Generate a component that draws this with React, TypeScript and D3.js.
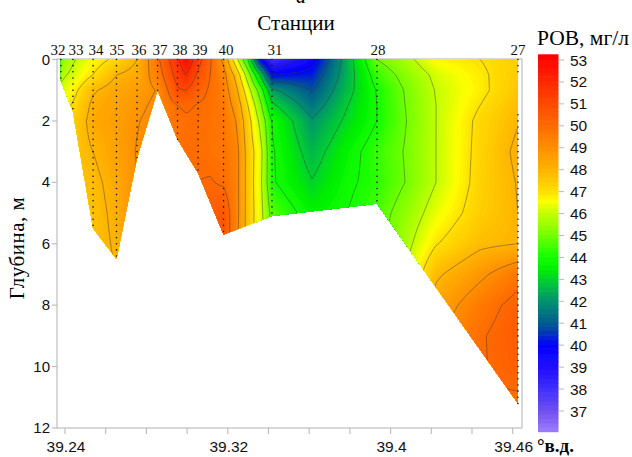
import React, { useMemo } from "react";
import * as d3 from "d3";

const depths = [0, 0.5, 1, 1.5, 2, 3, 4, 5, 6, 7, 8, 9, 10, 11, 12];
const gridLons = [39.238, 39.2439, 39.2538, 39.2653, 39.2754, 39.2855, 39.2953, 39.2995, 39.3054, 39.3113, 39.3179, 39.324, 39.3299, 39.3358, 39.3417, 39.3614, 39.3776, 39.3933, 39.4071, 39.4223, 39.4439, 39.4626];
const c32 = [45.3, 45.8, 46.2, 46.6, 47, 47.5];
const c33 = [45.9, 46.2, 46.7, 47.1, 47.4, 47.6, 47.6];
const c34 = [46.6, 47.0, 47.9, 48.2, 48.3, 48.0, 47.8, 47.7, 47.7];
const c35 = [47.2, 48, 48.4, 48.5, 48.6, 48.5, 48.3, 48.2, 48.1, 48];
const c36 = [48, 48.3, 48.6, 48.8, 48.95, 49.05, 49, 49];
const c37 = [49.8, 49.5, 49.05, 49.2, 49.3, 49.4];
const c38 = [51.8, 51.4, 50.9, 50.0, 49.8, 49.7, 49.7];
const g1 = [52.9, 52, 51, 50.1, 49.9, 50, 50, 50];
const c39 = [51.4, 50.8, 50.3, 49.95, 49.9, 49.9, 50, 50.2];
const g2 = [50.1, 50, 49.9, 49.85, 49.8, 49.8, 50.05, 50.4, 50.5];
const c40 = [48.8, 49.3, 49.5, 49.6, 49.7, 49.7, 49.9, 50.6, 50.7];
const g3 = [46.4, 47.7, 48.25, 48.7, 49, 49.4, 49.4, 49.4, 49.3];
const g4 = [44, 45.5, 46.4, 47, 47.4, 47.6, 47.6, 47.6, 47.6];
const g5 = [40, 43, 44.6, 45.3, 45.8, 46.4, 46.3, 46.4, 46.4];
const c31 = [38, 40, 42.2, 43.2, 43.95, 44.1, 44.1, 44.7, 45];
const g6 = [39.6, 40.3, 40.9, 41.5, 42.1, 42.6, 43.05, 43.6, 43.8];
const g7 = [42.3, 42.4, 42.6, 42.9, 43.1, 43.6, 43.8, 43.95, 44];
const c28 = [45, 44.4, 44.05, 44, 44, 44.4, 44.3, 44.6, 44.7];
const g8 = [45.7, 45.3, 45.05, 45, 44.95, 45.05, 45, 45.4, 45.7, 46];
const g9 = [46.7, 46.2, 46.05, 46, 46, 46, 46, 46.4, 46.95, 47.85, 48.4, 49];
const g10 = [47, 46.85, 46.8, 47, 47.2, 47.25, 47.3, 47.4, 47.8, 48.8, 49.6, 49.9, 49.9, 49.9];
const c27 = [47.4, 47.5, 47.6, 47.8, 47.95, 48.2, 48.05, 48, 48, 49.7, 50.3, 50.5, 50.4, 49.9, 49.8];
const columns = [c32, c33, c34, c35, c36, c37, c38, g1, c39, g2, c40, g3, g4, g5, c31, g6, g7, c28, g8, g9, g10, c27];

const stationNames = ["32", "33", "34", "35", "36", "37", "38", "39", "40", "31", "28", "27"];
const stationLons = [39.238, 39.2439, 39.2538, 39.2653, 39.2754, 39.2855, 39.2953, 39.3054, 39.3179, 39.3417, 39.3933, 39.4626];
const stationMaxDepths = [0.7, 1.7, 5.5, 6.5, 3.2, 1.0, 2.6, 3.7, 5.7, 5.1, 4.7, 11.2];

const lonTicks = [39.24, 39.26, 39.28, 39.3, 39.32, 39.34, 39.36, 39.38, 39.4, 39.42, 39.44, 39.46];
const lonLabels = ["39.24", "39.32", "39.4", "39.46"];
const depthTicks = [0, 2, 4, 6, 8, 10, 12];
const colorTicks = [53, 52, 51, 50, 49, 48, 47, 46, 45, 44, 43, 42, 41, 40, 39, 38, 37];
const contourLevels = [38, 39, 40, 41, 42, 43, 44, 45, 46, 47, 48, 49, 50, 51, 52];

const colorDomain = [36, 37, 38, 39, 40, 40.5, 41, 42, 43, 43.5, 44, 45, 46, 46.6, 47, 48, 49, 50, 51, 52, 53.2];
const colorRange = ["#a080ff", "#7050f0", "#4030ff", "#2010ff", "#0000ff", "#0030c0", "#005a90", "#009070", "#00d030", "#00f000", "#10ff00", "#70ff00", "#c0ff00", "#ffff00", "#ffe000", "#ffb400", "#ff9000", "#ff6a00", "#ff4a00", "#ff2a00", "#ff0000"];

const color = d3.scaleLinear<string>().domain(colorDomain).range(colorRange).clamp(true);
const x = d3.scaleLinear().domain([39.24, 39.46]).range([65, 512.7]);
const y = d3.scaleLinear().domain([0, 12]).range([59.5, 428]);
const cbY = d3.scaleLinear().domain([53, 37]).range([60, 411]);

const serif = "'Liberation Serif', serif";
const sans = "'Liberation Sans', sans-serif";
const FRAME = "#b9b9b9";
const labelNudge = [-3, 3, 3, 0.5, 2, 2.5, 2.5, 2, 2.5, 3, 1, 0];

function sample(lon: number, depth: number, ci: any, ri: any): number {
  const cf = ci(lon), rf = ri(depth);
  const c0 = Math.min(Math.floor(cf), columns.length - 2), r0 = Math.min(Math.floor(rf), depths.length - 2);
  const tc = cf - c0, tr = rf - r0;
  const at = (c: number, r: number) => { const a = columns[c]; return a[Math.min(r, a.length - 1)]; };
  return (1 - tc) * ((1 - tr) * at(c0, r0) + tr * at(c0, r0 + 1)) + tc * ((1 - tr) * at(c0 + 1, r0) + tr * at(c0 + 1, r0 + 1));
}

export default function App() {
  const { bands, lines } = useMemo(() => {
    const step = 1.5;
    const x0 = 54, y0 = 52;
    const nx = Math.ceil((528 - x0) / step), ny = Math.ceil((436 - y0) / step);
    const ci = d3.scaleLinear().domain(gridLons).range(d3.range(gridLons.length)).clamp(true);
    const ri = d3.scaleLinear().domain(depths).range(d3.range(depths.length)).clamp(true);
    const vals = new Array(nx * ny);
    for (let j = 0; j < ny; j++) for (let i = 0; i < nx; i++) {
      vals[j * nx + i] = sample(x.invert(x0 + i * step), y.invert(y0 + j * step), ci, ri);
    }
    const tf = d3.geoTransform({
      point(this: any, a: number, b: number) { this.stream.point(x0 + (a - 0.5) * step, y0 + (b - 0.5) * step); },
    });
    const path = d3.geoPath(tf);
    const gen = d3.contours().size([nx, ny]);
    const thresholds = d3.range(36, 53.3, 0.1);
    const bands = thresholds.map(t => ({ t, d: path(gen.contour(vals, t)) || "" })).filter(b => b.d);
    const lines = contourLevels.map(t => ({ t, d: path(gen.contour(vals, t)) || "" }));
    return { bands, lines };
  }, []);

  const clipPts = [[stationLons[0], 0], ...stationLons.map((l, i) => [l, stationMaxDepths[i]]), [stationLons[stationLons.length - 1], 0]];
  const clipD = d3.line()(clipPts.map(p => [x(p[0]), y(p[1])] as [number, number])) + "Z";

  const barVals = d3.range(36.06, 53.18, 0.2);

  return (
    <svg width={632} height={457} style={{ position: "absolute", left: 0, top: 0, background: "#fff" }}>
      <defs>
        <clipPath id="sec"><path d={clipD} /></clipPath>
        <filter id="soft" x="-5%" y="-5%" width="110%" height="110%"><feGaussianBlur stdDeviation="0.45" /></filter>
      </defs>

      <text x={301} y={3} fontFamily={serif} fontStyle="italic" fontSize={20} textAnchor="middle">а</text>
      <text x={296} y={30} fontFamily={serif} fontSize={21} textAnchor="middle">Станции</text>

      <g stroke={FRAME} strokeWidth={1.1} fill="none">
        <rect x={57} y={59} width={465} height={369} />
        {depthTicks.map(d => <line key={d} x1={52} x2={57} y1={y(d)} y2={y(d)} />)}
        {lonTicks.map(l => <line key={l} x1={x(l)} x2={x(l)} y1={428} y2={434} />)}
      </g>

      <g filter="url(#soft)">
        <g clipPath="url(#sec)">
          {bands.map(b => <path key={b.t} d={b.d} fill={color(b.t + 0.05)} />)}
          {lines.map(l => <path key={l.t} d={l.d} fill="none" stroke="#3a3a3a" strokeOpacity={0.65} strokeWidth={0.7} />)}
        </g>
      </g>

      <g fill="#111">
        {stationLons.map((l, i) =>
          d3.range(0, stationMaxDepths[i] + 0.001, 0.2)
            .filter(d => !(stationNames[i] === "27" && d > 0.5 && d < 1.7))
            .map(d => <circle key={`${i}-${d}`} cx={x(l)} cy={y(d)} r={0.8} />)
        )}
      </g>

      <g fontFamily={serif} fontSize={15} textAnchor="middle" fill="#111">
        {stationNames.map((n, i) => <text key={n} x={x(stationLons[i]) + labelNudge[i]} y={55}>{n}</text>)}
      </g>

      <g fontFamily={sans} fontSize={15} fill="#111" textAnchor="end">
        {depthTicks.map(d => <text key={d} x={50} y={y(d) + 5}>{d}</text>)}
      </g>
      <g fontFamily={sans} fontSize={15.5} fill="#111" textAnchor="middle">
        {lonLabels.map(l => <text key={l} x={x(+l) + 1} y={452}>{l}</text>)}
      </g>
      <text transform="translate(24,248) rotate(-90)" fontFamily={serif} fontSize={21} letterSpacing={0.5} textAnchor="middle">Глубина, м</text>
      <text x={537} y={452} fontFamily={serif} fontWeight="bold" fontSize={19}>°в.д.</text>

      <text x={537} y={45} fontFamily={serif} fontSize={21.5}>РОВ, мг/л</text>
      <g filter="url(#soft)">
        {barVals.map(v => <rect key={v} x={538} width={20.5} y={cbY(v + 0.2)} height={cbY(v) - cbY(v + 0.2) + 0.6} fill={color(v + 0.1)} />)}
      </g>
      <g stroke={FRAME} strokeWidth={1}>
        {colorTicks.map(t => <line key={t} x1={558.5} x2={564} y1={cbY(t)} y2={cbY(t)} />)}
      </g>
      <g fontFamily={sans} fontSize={15.5} fill="#111">
        {colorTicks.map(t => <text key={t} x={570} y={cbY(t) + 5.5}>{t}</text>)}
      </g>
    </svg>
  );
}
